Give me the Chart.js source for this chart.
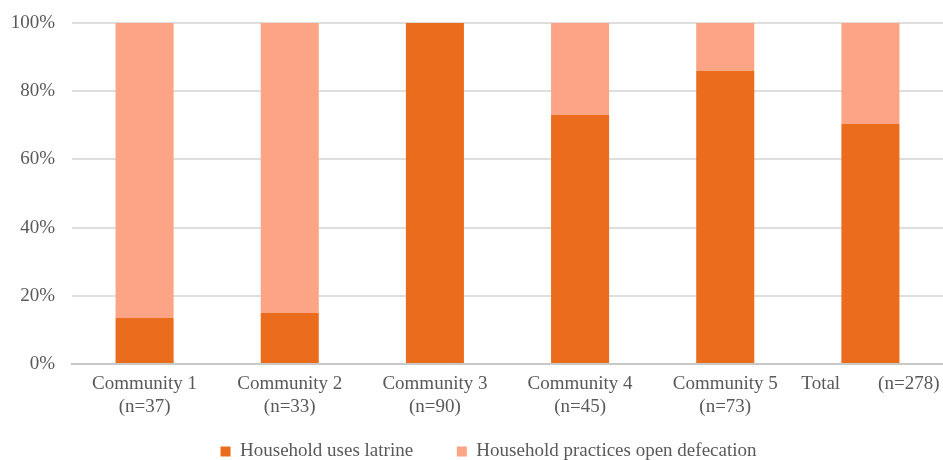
<!DOCTYPE html>
<html>
<head>
<meta charset="utf-8">
<script src="https://cdn.jsdelivr.net/npm/chart.js@4/dist/chart.umd.min.js"></script>
<style>
  html, body { margin: 0; padding: 0; background: #ffffff; }
  #wrap { width: 943px; height: 460px; position: relative; }
</style>
</head>
<body>
<div id="wrap"><canvas id="c" width="943" height="460"></canvas></div>
<script>
const categories = [
  ['Community 1', '(n=37)'],
  ['Community 2', '(n=33)'],
  ['Community 3', '(n=90)'],
  ['Community 4', '(n=45)'],
  ['Community 5', '(n=73)'],
  'Total        (n=278)'
];
const usesLatrine = [13.5, 15, 100, 73, 86, 70.4];
const openDefecation = [86.5, 85, 0, 27, 14, 29.6];
const seriesNames = ['Household uses latrine', 'Household practices open defecation'];
const yTicks = [0, 20, 40, 60, 80, 100];

const textColor = '#595959';
const fontFam = '"Liberation Serif", "Times New Roman", serif';

// shift legend horizontally after layout (spacing tweak)
const legendShift = {
  id: 'legendShift',
  afterLayout(chart) {
    if (chart.legend) { chart.legend.left += 12; chart.legend.right += 12; }
  }
};

new Chart(document.getElementById('c'), {
  type: 'bar',
  data: {
    labels: categories,
    datasets: [
      { label: seriesNames[0], data: usesLatrine, backgroundColor: '#EC6C1E', categoryPercentage: 0.4, barPercentage: 1.0 },
      { label: seriesNames[1], data: openDefecation, backgroundColor: '#FDA487', categoryPercentage: 0.4, barPercentage: 1.0 }
    ]
  },
  plugins: [legendShift],
  options: {
    responsive: false,
    animation: false,
    devicePixelRatio: 1,
    layout: { padding: { left: 10, right: 0, top: 0, bottom: -11 } },
    plugins: {
      tooltip: { enabled: false },
      legend: {
        position: 'bottom',
        labels: {
          color: textColor,
          font: { family: fontFam, size: 19 },
          boxWidth: 10,
          boxHeight: 10,
          padding: 20,
          generateLabels: (chart) => {
            const items = Chart.defaults.plugins.legend.labels.generateLabels(chart);
            items[0].text = items[0].text + '     ';
            return items;
          }
        }
      }
    },
    scales: {
      x: {
        stacked: true,
        grid: { display: false, drawTicks: false },
        border: { display: true, color: '#c8c8c8', width: 2 },
        afterFit: (s) => { s.height = 58; s.paddingRight = 0; s.paddingLeft = 0; },
        ticks: {
          color: textColor,
          font: { family: fontFam, size: 19, lineHeight: 1.2 },
          padding: 9,
          maxRotation: 0,
          autoSkip: false
        }
      },
      y: {
        stacked: true,
        min: 0,
        max: 100,
        afterBuildTicks: (s) => { s.ticks = yTicks.map(v => ({ value: v })); },
        afterFit: (s) => { s.width = 62; s.paddingTop = 23; },
        grid: { color: '#dedede', lineWidth: 2, drawTicks: false },
        border: { display: false },
        ticks: {
          color: textColor,
          font: { family: fontFam, size: 19 },
          padding: 17,
          callback: (v) => v + '%'
        }
      }
    }
  }
});
</script>
</body>
</html>
